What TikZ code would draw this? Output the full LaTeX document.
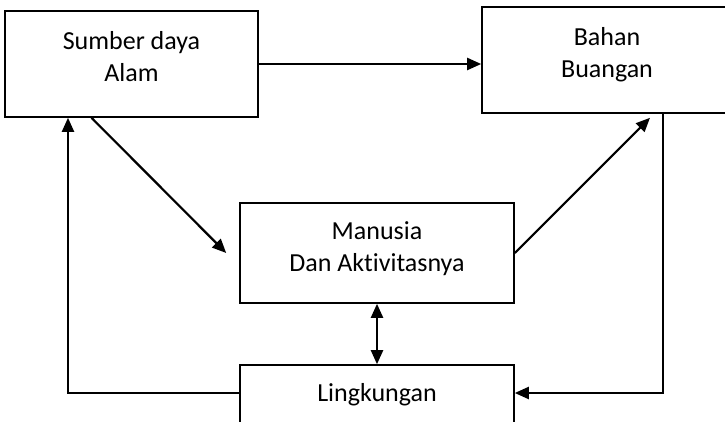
\documentclass[tikz,border=0pt]{standalone}
\usepackage{fontspec}
\setmainfont{Carlito}[Ligatures=NoCommon]
\usetikzlibrary{
    positioning,
    arrows.meta
}
\tikzset{
    >={Triangle[length=14pt,width=12pt]},
    kotak/.style={
        draw,
        line width=1.6pt,
        align=center,
        inner sep=2pt,
        font=\fontsize{26}{32}\selectfont
    },
    panah/.style={
        ->,
        line width=2.2pt
    }
}

\begin{document}
\begin{tikzpicture}[
    x=1pt,
    y=-1pt
]
    \clip (0,0) rectangle (725,422);

    % Kotak
    \node[kotak, minimum width=253, minimum height=106]
        (sumber) at (131.5,64)  {Sumber daya\\Alam\\[-16pt]};
    \node[kotak, minimum width=250, minimum height=106]
        (bahan) at (607,60)     {Bahan\\Buangan\\[-16pt]};
    \node[kotak, minimum width=274, minimum height=100]
        (manusia) at (377,253)  {Manusia\\Dan Aktivitasnya\\[-20pt]};
    \node[kotak, minimum width=274, minimum height=60]
        (lingkungan) at (377,395) {Lingkungan};

    % Titik sudut
    \coordinate (kiri)  at (68,393);
    \coordinate (kanan) at (663,393);

    % Panah
    \draw[panah] (sumber.east) -- (sumber.east -| bahan.west);
    \draw[panah] ([xshift=-40pt]sumber.south)
        -- ([xshift=-13pt]manusia.west);
    \draw[panah] (manusia.east)
        -- ([xshift=43pt,yshift=-4pt]bahan.south);
    \draw[panah, <->] (manusia.south) -- (lingkungan.north);

    % Umpan balik
    \draw[panah] (bahan.south -| kanan) -- (kanan)
        -- (lingkungan.east |- kanan);
    \draw[panah] (lingkungan.west |- kiri) -- (kiri)
        -- (sumber.south -| kiri);

\end{tikzpicture}
\end{document}
